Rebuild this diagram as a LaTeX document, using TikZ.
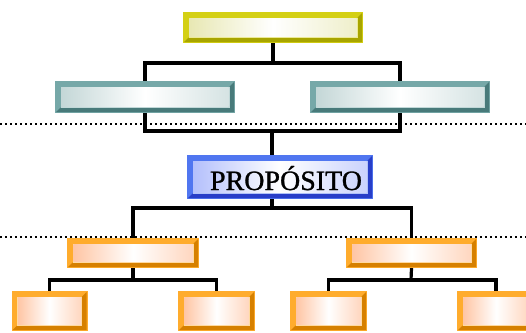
\documentclass[tikz,border=0pt]{standalone}
\usepackage{fontspec}
\setmainfont{Liberation Serif}
\definecolor{yelL}{RGB}{212,208,20}
\definecolor{yelD}{RGB}{168,165,0}
\definecolor{yelT}{RGB}{232,232,180}
\definecolor{teaL}{RGB}{118,168,168}
\definecolor{teaD}{RGB}{72,122,122}
\definecolor{teaT}{RGB}{196,215,215}
\definecolor{bluL}{RGB}{80,118,240}
\definecolor{bluD}{RGB}{40,62,200}
\definecolor{bluT}{RGB}{180,192,252}
\definecolor{orgL}{RGB}{255,172,45}
\definecolor{orgD}{RGB}{214,128,0}
\definecolor{orgT}{RGB}{255,198,165}
\newcommand\bevbox[4]{%
  \fill[#2] (#1.north west) rectangle (#1.south east);
  \fill[#3] ([shift={(-1,1)}]#1.north east) -- ([shift={(-1,-1)}]#1.south east) -- ([shift={(1,-1)}]#1.south west)
     -- ([shift={(5.5,-5.5)}]#1.south west) -- ([shift={(-5.5,-5.5)}]#1.south east)
     -- ([shift={(-5.5,5.5)}]#1.north east) -- cycle;
  \fill[#2!45!white] ([shift={(5.5,5.5)}]#1.north west) rectangle ([shift={(-5.5,-5.5)}]#1.south east);
  \shade[left color=#4, right color=#4!70!white, middle color=white]
     ([shift={(6.5,6.5)}]#1.north west) rectangle ([shift={(-6.5,-6.5)}]#1.south east);
}
\begin{document}
\begin{tikzpicture}[x=1pt,y=-1pt,
  conn/.style={line width=3.2pt, black},
  dots/.style={line width=2.6pt, black, dash pattern=on 2.4pt off 2.6pt},
  box/.style={rectangle, inner sep=0pt, outer sep=0pt, draw=none}]
\useasboundingbox (0,0) rectangle (526,332);
\begin{scope}
\clip (0,0) rectangle (526,332);
\coordinate (j1) at (273,63);
\coordinate (j2) at (272,131);
\coordinate (j3) at (272,208);
\coordinate (j4) at (133,280);
\coordinate (j5) at (411,280);
\node[box, minimum width=180, minimum height=31] (top) at (273,27.5) {};
\node[box, minimum width=180, minimum height=32] (t1) at (145,97) {};
\node[box, minimum width=180, minimum height=32] (t2) at (400,97) {};
\node[box, minimum width=186, minimum height=44] (prop) at (280,177) {};
\node[box, minimum width=132, minimum height=30] (o1) at (133,253) {};
\node[box, minimum width=131, minimum height=30] (o2) at (411.5,253) {};
\node[box, minimum width=76, minimum height=40] (l1) at (49.5,311) {};
\node[box, minimum width=77, minimum height=40] (l2) at (216.5,311) {};
\node[box, minimum width=77, minimum height=40] (r1) at (328.5,311) {};
\node[box, minimum width=78, minimum height=40] (r2) at (496,311) {};

\draw[conn] (top.south) -- (j1);
\draw[conn] (t1.north) |- (j1) -| (t2.north);
\draw[conn] (t1.south) |- (j2) -| (t2.south);
\draw[conn] (j2) -- (j2 |- prop.north);
\draw[conn] (j2 |- prop.south) -- (j3);
\draw[conn] (o1.north) |- (j3) -| (o2.north);
\draw[conn] (o1.south) -- (j4);
\draw[conn] (l1.north) |- (j4) -| (l2.north);
\draw[conn] (o2.south) -- (j5);
\draw[conn] (r1.north) |- (j5) -| (r2.north);

\bevbox{top}{yelL}{yelD}{yelT}
\bevbox{t1}{teaL}{teaD}{teaT}
\bevbox{t2}{teaL}{teaD}{teaT}
\bevbox{prop}{bluL}{bluD}{bluT}
\bevbox{o1}{orgL}{orgD}{orgT}
\bevbox{o2}{orgL}{orgD}{orgT}
\bevbox{l1}{orgL}{orgD}{orgT}
\bevbox{l2}{orgL}{orgD}{orgT}
\bevbox{r1}{orgL}{orgD}{orgT}
\bevbox{r2}{orgL}{orgD}{orgT}

\node[anchor=base, inner sep=0pt] (ptext) at (286,190) {\fontsize{28}{28}\selectfont\addfontfeatures{FakeBold=1}PROPÓSITO};

\coordinate (d1a) at (0,124);
\coordinate (d1b) at (526,124);
\coordinate (d2a) at (0,237);
\coordinate (d2b) at (526,237);
\draw[dots] (d1a) -- (d1b);
\draw[dots] (d2a) -- (d2b);
\end{scope}
\end{tikzpicture}
\end{document}
